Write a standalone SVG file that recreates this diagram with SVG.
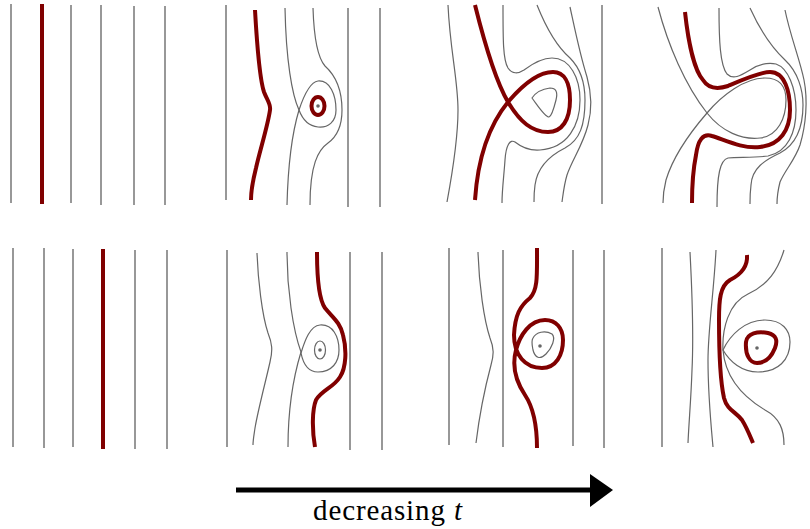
<svg xmlns="http://www.w3.org/2000/svg" width="810" height="529" viewBox="0 0 810 529">
<style>
.g{fill:none;stroke:#666;stroke-width:1.2}
.l{fill:none;stroke:#777;stroke-width:1.5}
.r{fill:none;stroke:#800000;stroke-width:4;stroke-linecap:butt;stroke-linejoin:round}
.d{fill:#666}
.t{font-family:"Liberation Serif","Times New Roman",serif;font-size:29px;fill:#000}
</style>
<rect width="810" height="529" fill="#fff"/>
<g id="panel-top-1">
<path class="l" d="M11,4V203M71,5V203M101,5V205M134,6V205M165,6V205"/>
<path class="r" d="M42,4V204"/>
</g>
<g id="panel-top-2">
<path class="l" d="M226,5V200M348,8V207M380,8V207"/>
<path class="g" d="M285,8 C286,60 292,95 299,110 C293,130 288,165 287,205"/>
<path class="g" d="M313,8 C314,40 318,58 325,66 C335,75 342,90 342,110 C342,128 335,138 328,143 C318,150 310,165 310,205"/>
<path class="g" d="M299,110 C304,95 310,82 318,81 C330,80 336,95 336,110 C336,122 328,128 318,127 C308,126 302,118 299,110 Z"/>
<path class="r" d="M255,10 C257,45 260,80 264,92 C267,100 271,104 270,110 C268,125 260,150 256,168 C253,180 251,192 251,200"/>
<ellipse class="r" cx="318" cy="106" rx="6.5" ry="9"/>
<circle class="d" cx="318" cy="106" r="1.8"/>
</g>
<g id="panel-top-3">
<path class="l" d="M602,5V204"/>
<path class="g" d="M448,5 C450,50 458,80 458,110 C458,140 452,175 447,202"/>
<path class="g" d="M503,5 C503,40 503,60 508,68 C512,74 518,74 524,70 C532,64 542,58 552,58 C570,58 580,78 580,100 C580,125 568,148 540,150 C528,151 520,146 515,142 C510,139 506,145 505,160 C504,175 502,190 502,203"/>
<path class="g" d="M532,98 C536,92 542,89 550,88 C556,88 558,92 556,100 C554,108 552,116 549,117 C545,117 538,106 532,98 Z"/>
<path class="g" d="M537,5 C545,25 555,45 570,58 C582,70 585,85 585,100 C585,125 580,140 565,148 C545,158 537,170 535,185 C534,192 534,196 534,202"/>
<path class="g" d="M570,7 C575,30 580,55 587,77 C592,95 592,110 588,125 C583,145 572,160 567,175 C564,185 563,195 562,202"/>
<path class="r" d="M475,5 C485,45 495,80 508,102 C520,122 532,132 548,132 C562,132 570,120 570,100 C570,82 564,72 553,72 C540,72 525,82 508,102 C490,124 478,155 475,200"/>
</g>
<g id="panel-top-4">
<path class="g" d="M658,7 C668,45 685,85 707,113 C722,132 742,140 760,138 C778,136 786,118 786,100 C786,85 778,78 765,78 C745,78 722,95 707,113 C688,135 672,160 666,180 C664,188 663,195 663,203"/>
<path class="g" d="M719,8 C719,40 720,65 727,74 C733,80 740,76 750,70 C758,65 768,62 776,64 C788,68 796,88 796,110 C796,132 788,152 768,156 C755,158 738,157 728,158 C720,160 717,175 717,207"/>
<path class="g" d="M750,8 C760,30 772,48 785,60 C798,72 803,90 803,105 C803,130 795,145 780,153 C765,160 752,168 751,185 C750,193 750,198 750,204"/>
<path class="g" d="M785,10 C790,35 800,60 804,80 C808,100 806,125 800,145 C795,160 785,170 780,182 C778,190 777,197 777,204"/>
<path class="r" d="M685,12 C688,40 694,70 703,80 C708,88 716,90 728,86 C742,80 760,72 770,72 C785,72 790,92 790,110 C790,130 780,145 760,147 C742,149 725,140 712,136 C703,133 698,140 696,155 C693,170 692,190 692,203"/>
</g>
<g id="panel-bottom-1">
<path class="l" d="M13,248V447M44,248V448M73,249V447M135,250V449M167,250V449"/>
<path class="r" d="M103,249V449"/>
</g>
<g id="panel-bottom-2">
<path class="l" d="M227,250V447M350,252V450M382,252V450"/>
<path class="g" d="M257,253 C258,280 262,315 268,333 C272,343 273,350 270,362 C266,380 258,410 255,428 C254,435 253,440 253,445"/>
<path class="g" d="M287,252 C287,290 293,330 301,352 C294,375 288,405 288,447"/>
<path class="g" d="M301,353 C305,340 310,326 320,325 C333,324 339,337 339,350 C339,362 332,372 318,372 C308,372 303,363 301,353 Z"/>
<ellipse class="g" cx="320" cy="350" rx="5.5" ry="9"/>
<circle class="d" cx="320" cy="350" r="1.8"/>
<path class="r" d="M317,252 C317,275 318,298 325,308 C333,318 340,322 343,335 C347,350 346,368 340,377 C333,388 322,390 316,400 C312,410 312,430 315,447"/>
</g>
<g id="panel-bottom-3">
<path class="l" d="M449,248V445M503,250V447M573,250V446M604,250V448"/>
<path class="g" d="M478,252 C479,285 484,320 490,338 C494,348 494,355 491,365 C487,380 480,410 476,443"/>
<path class="g" d="M533,338 C536,332 545,330 552,334 C556,338 552,348 546,354 C540,360 535,358 533,350 C532,345 531,341 533,338 Z"/>
<circle class="d" cx="540" cy="346" r="1.8"/>
<path class="r" d="M537,248 C537,275 538,290 530,298 C520,306 515,315 514,335 C514,355 525,368 542,368 C556,368 563,355 563,340 C563,328 556,320 545,320 C530,320 520,335 516,350 C512,365 515,380 525,395 C533,407 537,425 537,448"/>
</g>
<g id="panel-bottom-4">
<path class="l" d="M662,248V447"/>
<path class="g" d="M690,252 C692,290 694,330 692,370 C691,400 689,420 688,443"/>
<path class="g" d="M716,250 C714,290 708,330 708,360 C708,395 711,425 713,447"/>
<path class="g" d="M784,250 C778,270 768,285 748,294 C728,303 722,330 723,350 C725,375 740,395 765,410 C780,418 784,430 784,445"/>
<path class="g" d="M723,350 C730,335 745,320 765,320 C782,320 790,330 790,342 C790,360 778,372 758,372 C742,372 730,362 723,350 Z"/>
<path class="r" d="M746,342 C747,333 758,331 768,333 C776,335 778,340 775,348 C771,358 765,363 757,363 C750,363 745,355 746,342 Z"/>
<circle class="d" cx="757" cy="348" r="1.8"/>
<path class="r" d="M747,255 C748,268 740,275 730,280 C720,286 719,300 719,320 C719,350 720,380 724,398 C727,410 736,412 742,420 C747,428 750,436 753,443"/>
</g>
<g id="arrow">
<path d="M236,490H592" stroke="#000" stroke-width="5" fill="none"/>
<polygon points="590,474 613,490 590,507" fill="#000"/>
<text class="t" x="313" y="520" textLength="149" lengthAdjust="spacing">decreasing <tspan font-style="italic">t</tspan></text>
</g>
</svg>
